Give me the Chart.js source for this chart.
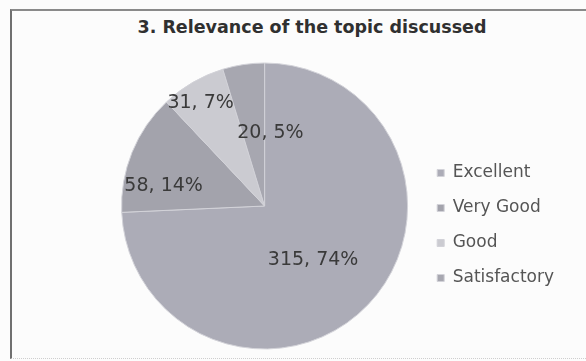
<!DOCTYPE html>
<html>
<head>
<meta charset="utf-8">
<title>Relevance of the topic discussed</title>
<script src="https://cdn.jsdelivr.net/npm/chart.js@4.4.1/dist/chart.umd.min.js"></script>
<style>
  html, body { margin: 0; padding: 0; background: #fcfcfc; overflow: hidden; }
  /* chart frame: heavy left/top rule, faint dotted bottom */
  #frame {
    position: absolute; left: 10px; top: 9px; width: 600px; height: 347px;
    border-left: 2px solid #707070; border-top: 2px solid #8a8a8a;
    border-bottom: 1px dotted #cfcfcf;
  }
  #chartTitle {
    position: absolute; left: 112px; width: 400px; top: 17px;
    text-align: center; white-space: nowrap;
    font: bold 17.5px/21px "DejaVu Sans", sans-serif; color: #303030;
  }
  #wrap { position: absolute; left: 0; top: 0; width: 586px; height: 361px; }
</style>
</head>
<body>
<div id="frame"></div>
<div id="chartTitle">3. Relevance of the topic discussed</div>
<div id="wrap"><canvas id="relevanceChart" width="586" height="361"></canvas></div>
<script>
var categories = ['Excellent', 'Very Good', 'Good', 'Satisfactory'];
var responses = [315, 58, 31, 20];
var sliceColors = ['#acacb7', '#a3a3ac', '#cbcbd1', '#a7a7b0'];

// value label placement: share of the radius, and turn away from the slice middle (degrees)
var labelRadius = [0.51, 0.72, 0.85, 0.51];
var labelTurn = [4.6, -10.8, -1.6, 13.1];

document.addEventListener('DOMContentLoaded', function () {
    var total = responses.reduce(function (a, b) { return a + b; }, 0);

    // "value, percent" label for every slice
    var sliceLabels = {
        id: 'sliceLabels',
        afterDatasetsDraw: function (chart) {
            var c = chart.ctx;
            var meta = chart.getDatasetMeta(0);
            c.save();
            c.font = '19px "DejaVu Sans"';
            c.fillStyle = '#3a3a3a';
            c.textAlign = 'center';
            c.textBaseline = 'middle';
            meta.data.forEach(function (arc, i) {
                var p = arc.getProps(['x', 'y', 'startAngle', 'endAngle', 'outerRadius'], true);
                var a = (p.startAngle + p.endAngle) / 2 + labelTurn[i] * Math.PI / 180;
                var r = p.outerRadius * labelRadius[i];
                var pct = Math.round(responses[i] / total * 100);
                c.fillText(responses[i] + ', ' + pct + '%', p.x + Math.cos(a) * r, p.y + Math.sin(a) * r);
            });
            c.restore();
        }
    };

    var ctx = document.getElementById('relevanceChart').getContext('2d');
    var relevanceChart = new Chart(ctx, {
        type: 'pie',
        data: {
            labels: categories,
            datasets: [{
                data: responses,
                backgroundColor: sliceColors,
                borderColor: '#d2d2d8',
                borderWidth: 1,
                radius: 143,
                clip: false
            }]
        },
        options: {
            responsive: false,
            animation: false,
            events: [],
            // pie sits at the middle of the chart area, legend to its right
            layout: {
                padding: { left: 110, right: 22, top: 107.5, bottom: 56.5 }
            },
            plugins: {
                title: { display: false },
                legend: {
                    position: 'right',
                    align: 'end',
                    fullSize: false,
                    labels: {
                        boxWidth: 7,
                        boxHeight: 7,
                        padding: 18,
                        color: '#555555',
                        font: { family: 'DejaVu Sans', size: 17 }
                    }
                },
                tooltip: { enabled: false }
            }
        },
        plugins: [sliceLabels]
    });
});
</script>
</body>
</html>
